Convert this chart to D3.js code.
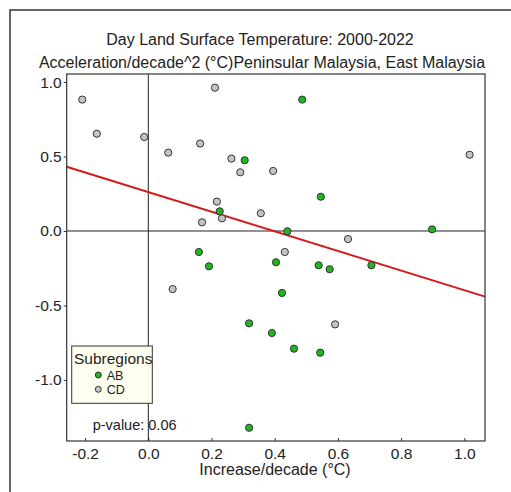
<!DOCTYPE html>
<html>
<head>
<meta charset="utf-8">
<script src="https://cdn.jsdelivr.net/npm/d3@7"></script>
<style>
  body { margin: 0; background: #fff; }
  text { font-family: "Liberation Sans", Arial, sans-serif; fill: #222; }
</style>
</head>
<body>
<div id="chart"></div>
<script>
// subregion AB (green) points
var abX = [0.487, 0.305, 0.546, 0.226, 0.440, 0.898, 0.160, 0.404, 0.192,
           0.539, 0.574, 0.706, 0.423, 0.319, 0.391, 0.461, 0.544, 0.319];
var abY = [0.882, 0.475, 0.230, 0.132, -0.002, 0.011, -0.141, -0.210, -0.237,
           -0.230, -0.257, -0.230, -0.416, -0.620, -0.685, -0.790, -0.817, -1.321];
// subregion CD (gray) points
var cdX = [-0.209, -0.163, -0.013, 0.211, 0.063, 0.164, 0.263, 0.291, 0.395,
           1.017, 0.217, 0.356, 0.233, 0.170, 0.632, 0.432, 0.077, 0.591];
var cdY = [0.882, 0.653, 0.631, 0.962, 0.526, 0.587, 0.486, 0.394, 0.403,
           0.512, 0.197, 0.119, 0.085, 0.058, -0.054, -0.141, -0.390, -0.627];

var xTicks = [-0.2, 0.0, 0.2, 0.4, 0.6, 0.8, 1.0];
var yTicks = [-1.0, -0.5, 0.0, 0.5, 1.0];
var groups = ["AB", "CD"];
var groupColors = ["#1fb51f", "#c4c4c4"];
var pValue = "0.06";

var W = 511, H = 492;
var svg = d3.select("#chart").append("svg")
    .attr("width", W)
    .attr("height", H);

// outer frame
svg.append("rect")
    .attr("x", 10).attr("y", 10)
    .attr("width", W + 10).attr("height", H + 10)
    .style("fill", "none").style("stroke", "#333").style("stroke-width", 1.5);

var plot = { left: 66.7, right: 485, top: 74, bottom: 441 };

var x = d3.scaleLinear().domain([-0.2583, 1.0655]).range([plot.left, plot.right]);
var y = d3.scaleLinear().domain([-1.410, 1.054]).range([plot.bottom, plot.top]);

// titles
svg.append("text").attr("x", 260).attr("y", 45)
    .attr("text-anchor", "middle").style("font-size", "16px")
    .text("Day Land Surface Temperature: 2000-2022");
svg.append("text").attr("x", 262).attr("y", 68)
    .attr("text-anchor", "middle").style("font-size", "16px")
    .text("Acceleration/decade^2 (°C)Peninsular Malaysia, East Malaysia");

// axes
var fmt = function(d) { return d3.format(".1f")(d).replace("−", "-"); };
var xAxis = svg.append("g")
    .attr("transform", "translate(0," + plot.bottom + ")")
    .call(d3.axisBottom(x).tickValues(xTicks).tickFormat(fmt)
        .tickSizeInner(-3).tickSizeOuter(0).tickPadding(7));
var yAxis = svg.append("g")
    .attr("transform", "translate(" + plot.left + ",0)")
    .call(d3.axisLeft(y).tickValues(yTicks).tickFormat(fmt)
        .tickSizeInner(3).tickSizeOuter(0).tickPadding(2));
[xAxis, yAxis].forEach(function(a) {
    a.select(".domain").remove();
    a.selectAll("text").style("font-size", "15.5px")
        .style("font-family", "Liberation Sans, Arial, sans-serif").style("fill", "#222");
    a.selectAll("line").style("stroke", "#333");
});

svg.append("text").attr("x", 275).attr("y", 475)
    .attr("text-anchor", "middle").style("font-size", "16px")
    .text("Increase/decade (°C)");

// zero reference lines
svg.append("line")
    .attr("x1", x(0)).attr("x2", x(0)).attr("y1", plot.top).attr("y2", plot.bottom)
    .style("stroke", "#222").style("stroke-width", 1);
svg.append("line")
    .attr("x1", plot.left).attr("x2", plot.right).attr("y1", y(0)).attr("y2", y(0))
    .style("stroke", "#222").style("stroke-width", 1);

// least squares fit over all points
var allX = abX.concat(cdX), allY = abY.concat(cdY);
var mx = d3.mean(allX), my = d3.mean(allY);
var sxy = d3.sum(allX, function(v, i) { return (v - mx) * (allY[i] - my); });
var sxx = d3.sum(allX, function(v) { return (v - mx) * (v - mx); });
var slope = sxy / sxx, intercept = my - slope * mx;
var xd = x.domain();
svg.append("line")
    .attr("x1", x(xd[0])).attr("y1", y(intercept + slope * xd[0]))
    .attr("x2", x(xd[1])).attr("y2", y(intercept + slope * xd[1]))
    .style("stroke", "#d61a1a").style("stroke-width", 2);

// points
var pts = [];
cdX.forEach(function(v, i) { pts.push({ x: v, y: cdY[i], g: 1 }); });
abX.forEach(function(v, i) { pts.push({ x: v, y: abY[i], g: 0 }); });
svg.selectAll(".pt")
    .data(pts)
    .enter().append("circle")
    .attr("class", "pt")
    .attr("cx", function(d) { return x(d.x); })
    .attr("cy", function(d) { return y(d.y); })
    .attr("r", 3.6)
    .style("fill", function(d) { return groupColors[d.g]; })
    .style("stroke", "#333").style("stroke-width", 1);

// plot border
svg.append("rect")
    .attr("x", plot.left).attr("y", plot.top)
    .attr("width", plot.right - plot.left).attr("height", plot.bottom - plot.top)
    .style("fill", "none").style("stroke", "#333").style("stroke-width", 1.2);

// legend
var lg = svg.append("g");
lg.append("rect")
    .attr("x", 71.7).attr("y", 346).attr("width", 80.6).attr("height", 57.3)
    .style("fill", "#fffff0").style("stroke", "#333").style("stroke-width", 1);
lg.append("text").attr("x", 74).attr("y", 364).style("font-size", "15.5px").text("Subregions");
groups.forEach(function(g, i) {
    lg.append("circle").attr("cx", 98.3).attr("cy", 375 + i * 14.3).attr("r", 3)
        .style("fill", groupColors[i]).style("stroke", "#333").style("stroke-width", 1);
    lg.append("text").attr("x", 106.7).attr("y", 379.5 + i * 14.3)
        .style("font-size", "12.5px").text(g);
});

svg.append("text").attr("x", 92.7).attr("y", 430)
    .style("font-size", "14.5px").text("p-value: " + pValue);
</script>
</body>
</html>
